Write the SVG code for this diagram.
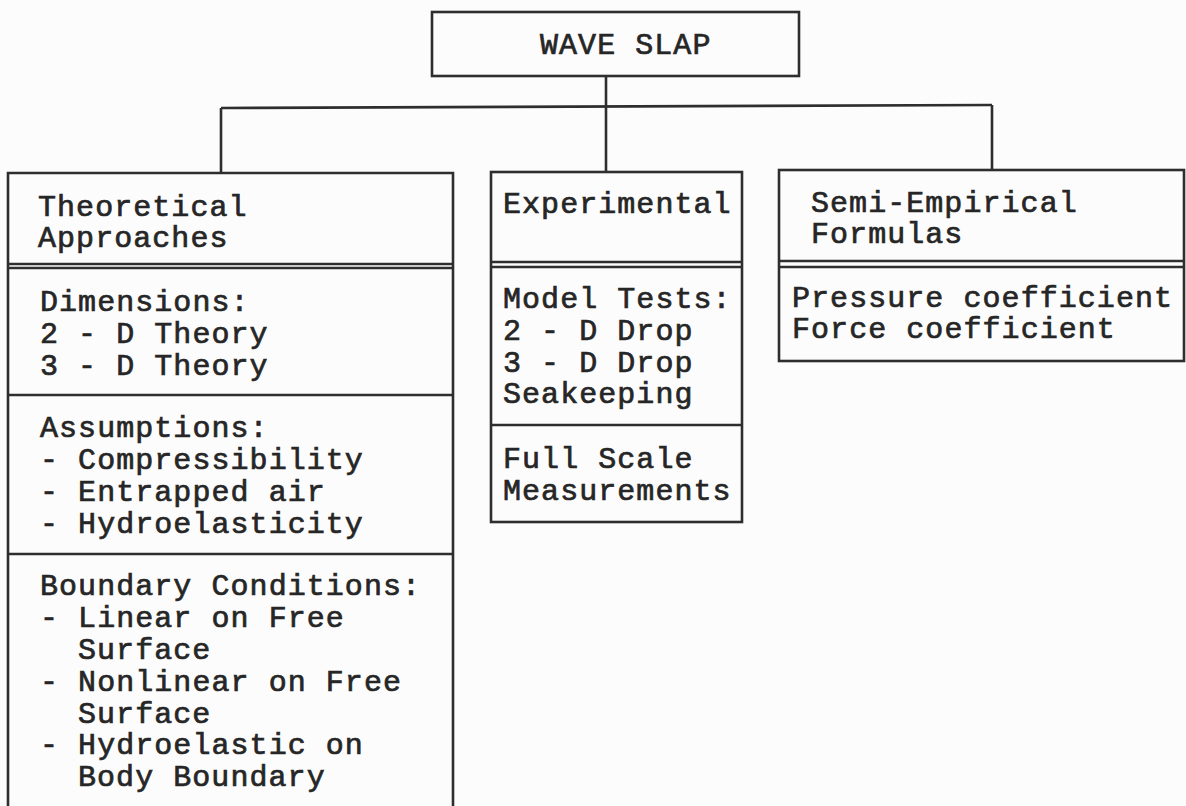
<svg xmlns="http://www.w3.org/2000/svg" width="1186" height="806" viewBox="0 0 1186 806">
<style>
.b{fill:none;stroke:#2e2e2e;stroke-width:2.6}
.c{fill:none;stroke:#2e2e2e;stroke-width:2.6}
text{font-family:"Liberation Mono","Courier New",monospace;font-size:30px;letter-spacing:1.05px;fill:#262626;stroke:#262626;stroke-width:0.7}
</style>
<rect width="1186" height="806" fill="#fcfcfc"/>
<g id="connectors">
<line class="c" x1="606" y1="76" x2="606" y2="172"/>
<line class="c" x1="221" y1="108" x2="992" y2="105"/>
<line class="c" x1="221" y1="108" x2="221" y2="173"/>
<line class="c" x1="992" y1="105" x2="992" y2="170"/>
</g>
<g id="wave-slap">
<rect class="b" x="432" y="12" width="367" height="64"/>
<text x="540" y="54">WAVE SLAP</text>
</g>
<g id="theoretical">
<path class="b" d="M8,820 V173 H453 V820"/>
<line class="b" x1="8" y1="264" x2="453" y2="264"/>
<line class="b" x1="8" y1="268" x2="453" y2="268"/>
<line class="b" x1="8" y1="395" x2="453" y2="395"/>
<line class="b" x1="8" y1="554" x2="453" y2="554"/>
<text x="38" y="216">Theoretical</text>
<text x="38" y="247">Approaches</text>
<text x="40" y="311">Dimensions:</text>
<text x="40" y="343">2 - D Theory</text>
<text x="40" y="375">3 - D Theory</text>
<text x="40" y="437">Assumptions:</text>
<text x="40" y="469">- Compressibility</text>
<text x="40" y="501">- Entrapped air</text>
<text x="40" y="533">- Hydroelasticity</text>
<text x="40" y="595">Boundary Conditions:</text>
<text x="40" y="627">- Linear on Free</text>
<text x="78" y="659">Surface</text>
<text x="40" y="691">- Nonlinear on Free</text>
<text x="78" y="723">Surface</text>
<text x="40" y="754">- Hydroelastic on</text>
<text x="78" y="786">Body Boundary</text>
</g>
<g id="experimental">
<rect class="b" x="491" y="172" width="251" height="350"/>
<line class="b" x1="491" y1="262" x2="742" y2="262"/>
<line class="b" x1="491" y1="267" x2="742" y2="267"/>
<line class="b" x1="491" y1="425" x2="742" y2="425"/>
<text x="503" y="213">Experimental</text>
<text x="503" y="308">Model Tests:</text>
<text x="503" y="340">2 - D Drop</text>
<text x="503" y="372">3 - D Drop</text>
<text x="503" y="403">Seakeeping</text>
<text x="503" y="468">Full Scale</text>
<text x="503" y="500">Measurements</text>
</g>
<g id="semi-empirical">
<rect class="b" x="779" y="170" width="405" height="191"/>
<line class="b" x1="779" y1="261" x2="1184" y2="261"/>
<line class="b" x1="779" y1="267" x2="1184" y2="267"/>
<text x="811" y="212">Semi-Empirical</text>
<text x="811" y="243">Formulas</text>
<text x="792" y="307">Pressure coefficient</text>
<text x="792" y="338">Force coefficient</text>
</g>
</svg>
